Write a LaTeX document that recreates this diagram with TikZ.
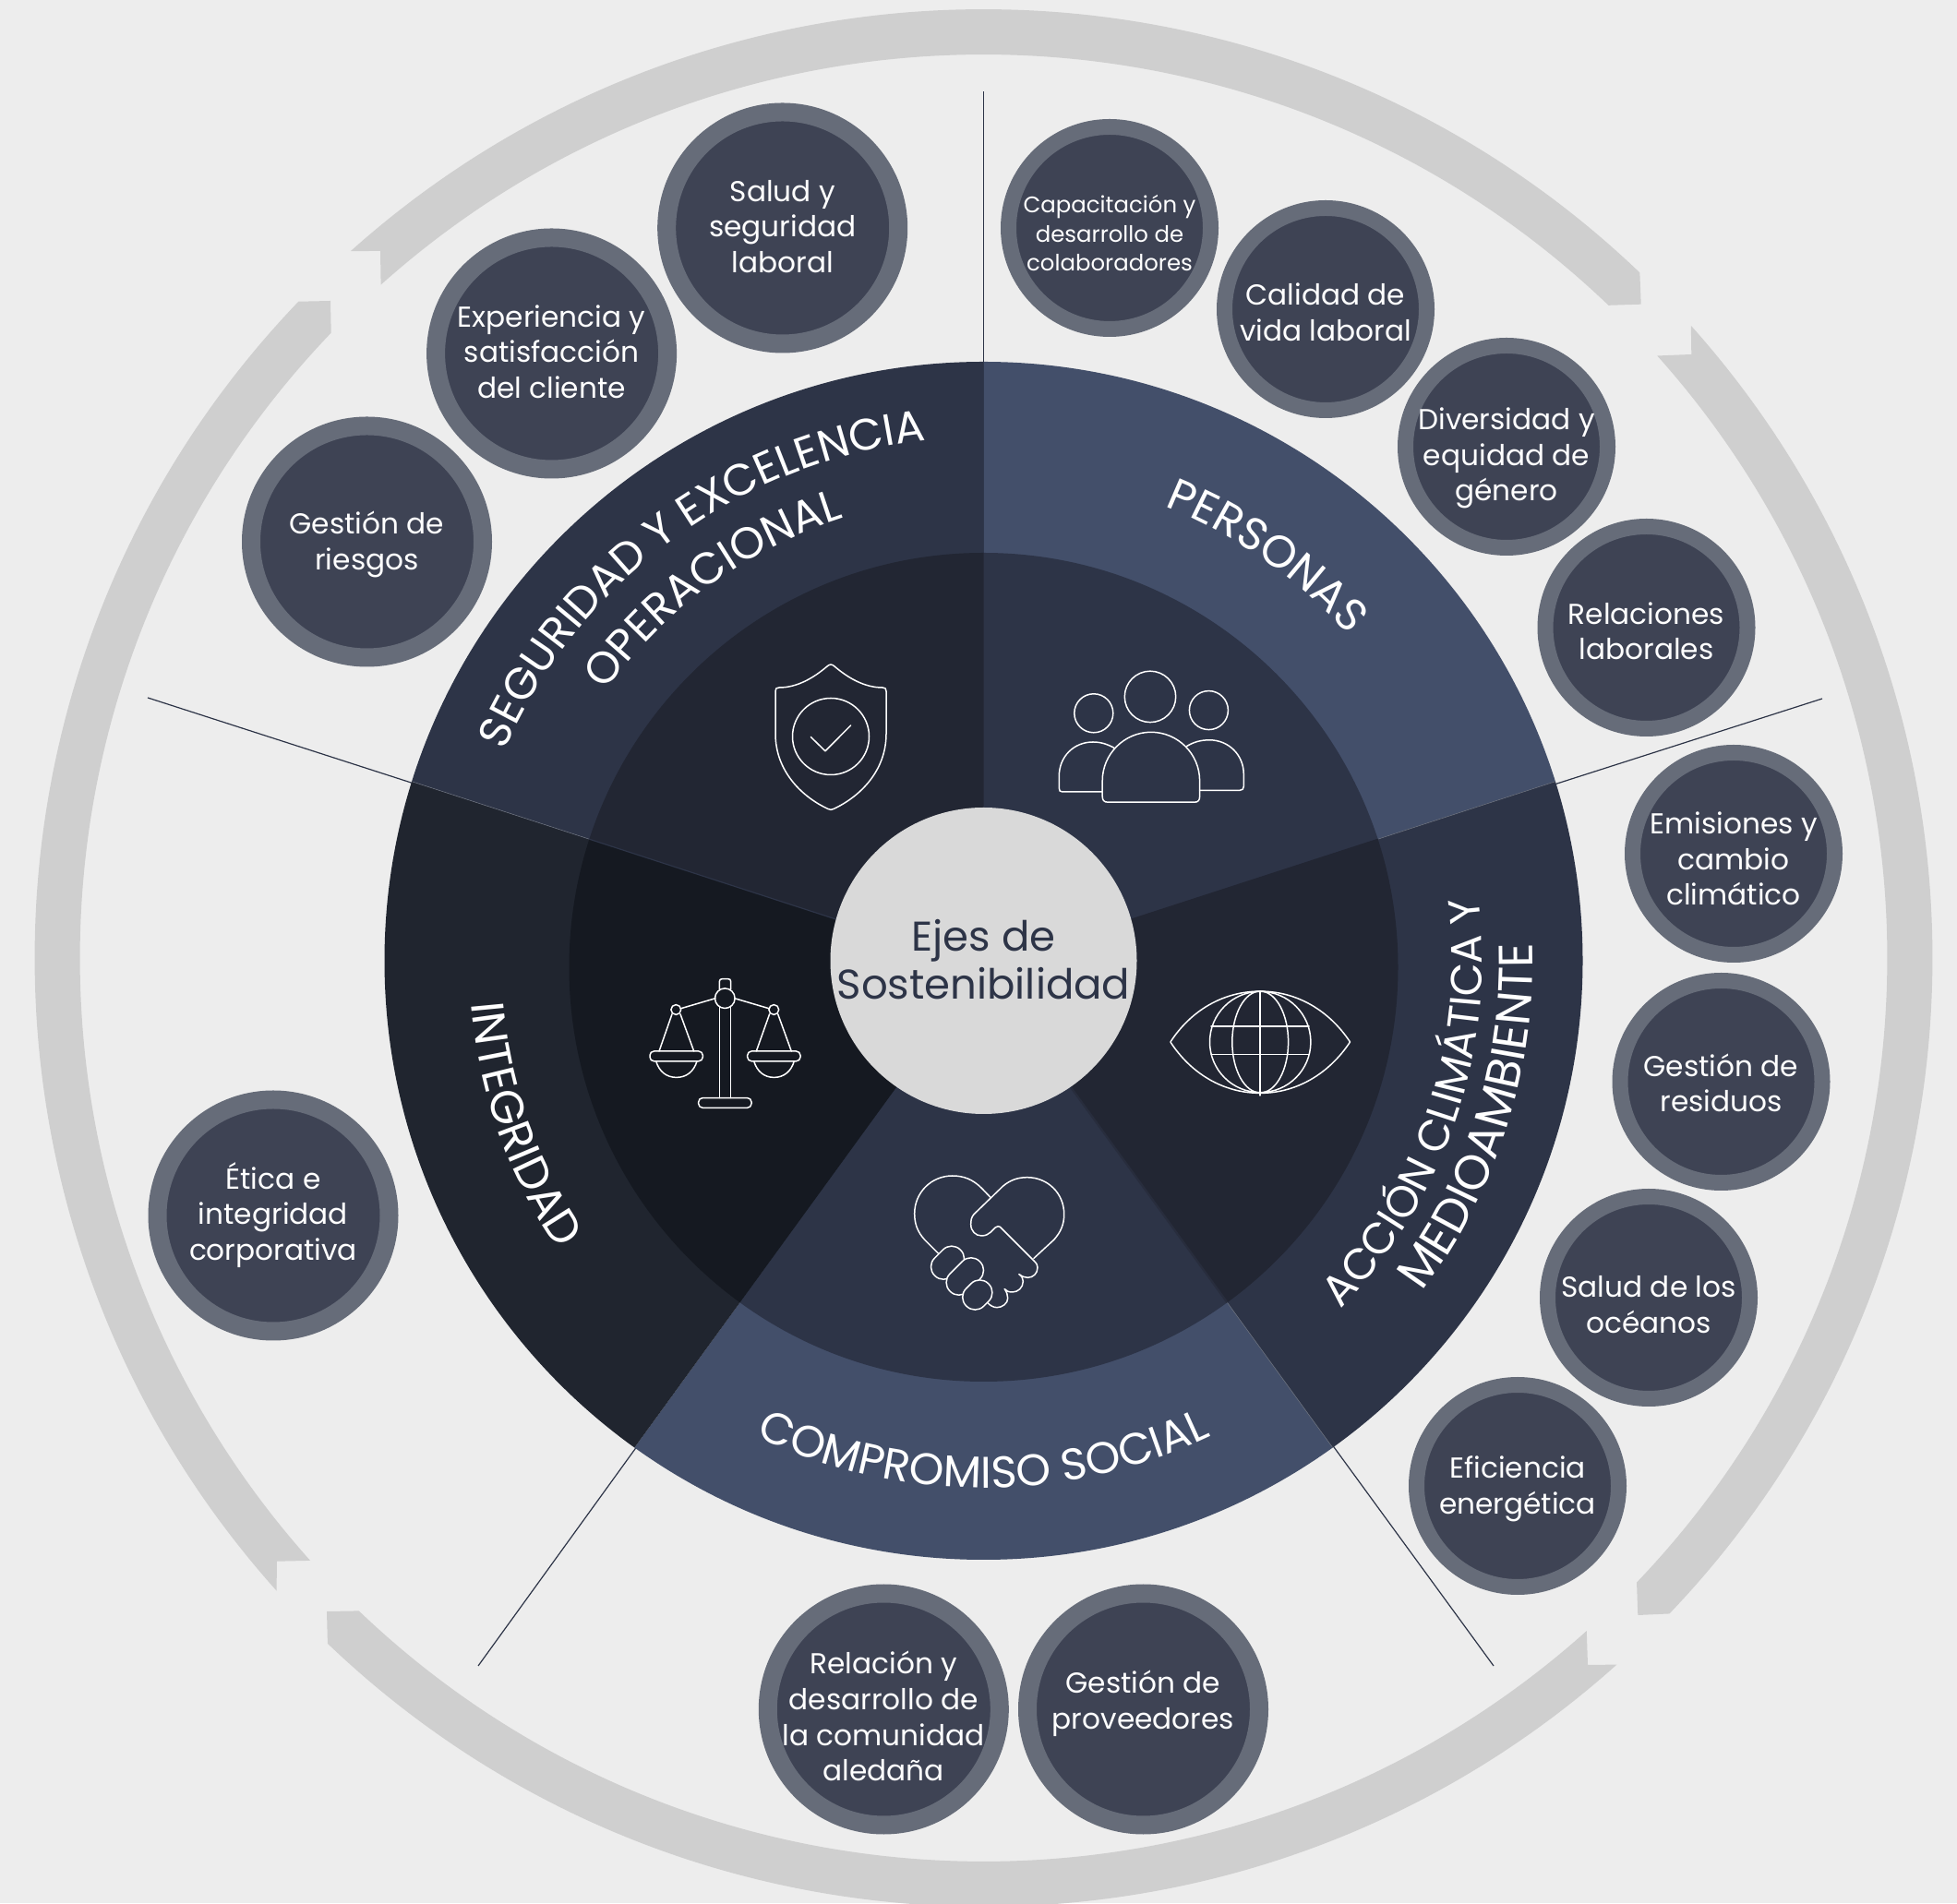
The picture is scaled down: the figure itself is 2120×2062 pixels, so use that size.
\documentclass[tikz,border=0pt]{standalone}
\usepackage{fontspec}
\setmainfont{Poppins}
\usetikzlibrary{decorations.text,calc}
\definecolor{bgc}{HTML}{EDEDED}
\definecolor{ringc}{HTML}{CFCFCF}
\definecolor{hubc}{HTML}{D9D9D9}
\definecolor{bluea}{HTML}{434F6A}
\definecolor{blueb}{HTML}{2D3447}
\definecolor{bluec}{HTML}{222633}
\definecolor{blued}{HTML}{20252F}
\definecolor{bluee}{HTML}{151921}
\definecolor{bubc}{HTML}{3E4354}
\definecolor{bubr}{HTML}{666C79}
\definecolor{seamc}{HTML}{282D3D}
\newcommand{\cctext}[2][0]{\smash{\raisebox{-#1pt}{\makebox[0pt]{\begin{tabular}{@{}c@{}}#2\end{tabular}}}}}
\newcommand{\wedgefill}[3]{\fill[#1] (C2) -- ++(#2:1300) -- ++({(#2+#3)/2}:500) -- ($(C2)+(#3:1300)$) -- cycle;}
\newcommand{\arclabel}[5]{\path[decorate,decoration={text along path,text color=white,text align=center,text={|\fontsize{#1}{#1}\selectfont|#2}}] (#3:#5) arc[start angle=#3,end angle=#4,radius=#5];}
\tikzset{
 bubbig/.style={circle,outer sep=0pt,inner sep=0pt,fill=bubc,draw=bubr,line width=10pt,minimum size=125.5pt,text=white,font=\fontsize{15.6}{19.3}\selectfont},
 bubsmall/.style={circle,outer sep=0pt,inner sep=0pt,fill=bubc,draw=bubr,line width=8.5pt,minimum size=109.5pt,text=white,font=\fontsize{15.6}{19.3}\selectfont},
 icon/.style={draw=white,line width=0.75pt,line join=round,line cap=round},
 spoke/.style={draw=blueb,line width=0.6pt},
}
\begin{document}
\begin{tikzpicture}[x=0.5pt,y=0.5pt]
\clip (0,0) rectangle (2120,2062);
\fill[bgc] (0,0) rectangle (2120,2062);
\coordinate (C) at (1065.5,1021);
\coordinate (C2) at (1065.5,1014);
\coordinate (RC) at (1065.5,1024);
% ring
\begin{scope}[shift={(RC)}]
\fill[ringc] (131.83:1028) arc[start angle=131.83,end angle=46.25,radius=1028] -- (712.2,708.3) -- (46.25:979) arc[start angle=46.25,end angle=131.83,radius=979] -- (-653.5,766) -- cycle;
\fill[ringc] (41.8:1028) arc[start angle=41.8,end angle=-43.72,radius=1028] -- (708.8,-712) -- (-43.72:979) arc[start angle=-43.72,end angle=41.8,radius=979] -- (766.8,654) -- cycle;
\fill[ringc] (-48.14:1028) arc[start angle=-48.14,end angle=-133.73,radius=1028] -- (-711.5,-708) -- (-133.73:979) arc[start angle=-133.73,end angle=-48.14,radius=979] -- (654.5,-766) -- cycle;
\fill[ringc] (221.83:1028) arc[start angle=221.83,end angle=136.22,radius=1028] -- (-707.5,712) -- (136.22:979) arc[start angle=136.22,end angle=221.83,radius=979] -- (-765.5,-653.7) -- cycle;
\end{scope}
% spokes
\coordinate (s1) at (1065.5,1963);
\coordinate (s2) at (1974,1305);
\coordinate (s3) at (1618,257);
\coordinate (s4) at (518,257);
\coordinate (s5) at (160,1306);
\draw[spoke] (C2) -- (s1);
\draw[spoke] (C2) -- (s2);
\draw[spoke] (C2) -- (s3);
\draw[spoke] (C2) -- (s4);
\draw[spoke] (C2) -- (s5);
% outer sectors
\begin{scope}
\clip (C) circle[radius=649];
\wedgefill{bluea}{18}{90}
\wedgefill{blueb}{-54}{18}
\wedgefill{bluea}{-126}{-54}
\wedgefill{blued}{162}{234}
\wedgefill{blueb}{90}{162}
\draw[line width=0.3pt,draw=bubr] (C2) -- ++(18:1000);
\draw[line width=0.3pt,draw=bubr] (C2) -- ++(-54:1000);
\draw[line width=0.3pt,draw=bubr] (C2) -- ++(162:1000);
\end{scope}
% inner sectors
\begin{scope}
\clip (C2) circle[radius=449];
\wedgefill{blueb}{18}{90}
\wedgefill{bluec}{-54}{18}
\wedgefill{blueb}{-126}{-54}
\wedgefill{bluee}{162}{234}
\wedgefill{bluec}{90}{162}
\draw[line width=0.5pt,draw=bluec] (C2) -- ++(18:1000);
\draw[line width=1.1pt,draw=seamc] (C2) -- ++(-54:1000);
\draw[line width=0.6pt,draw=blueb] (C2) -- ++(162:1000);
\end{scope}
% hub
\node[circle,outer sep=0pt,inner sep=0pt,fill=hubc,minimum size=166pt,text=blueb,font=\fontsize{22.5}{26}\selectfont] (hub) at (C) {\cctext[7.8]{Ejes de\\Sostenibilidad}};
% curved labels
\begin{scope}[shift={(C)}]
\arclabel{24}{SEGURIDAD Y EXCELENCIA}{176.3}{76.3}{567}
\arclabel{24}{OPERACIONAL}{176}{76}{503}
\arclabel{24.4}{PERSONAS}{95}{15}{530}
\arclabel{23.6}{ACCIÓN CLIMÁTICA Y}{-58.5}{21.5}{540}
\arclabel{26}{MEDIOAMBIENTE}{-57.6}{22.4}{595}
\arclabel{24}{COMPROMISO SOCIAL}{-130}{-50}{571}
\arclabel{25}{INTEGRIDAD}{159.5}{239.5}{557}
\end{scope}
% bubbles
\node[bubbig] (b1) at (847.7,1815) {\cctext[4.7]{Salud y\\seguridad\\laboral}};
\node[bubbig] (b2) at (597.6,1679) {\cctext[4.7]{Experiencia y\\satisfacción\\del cliente}};
\node[bubbig] (b3) at (397.5,1475) {\cctext[5.3]{Gestión de\\riesgos}};
\node[bubbig] (b4) at (296,745) {\cctext[4.1]{Ética e\\integridad\\corporativa}};
\node[bubbig] (b5) at (957.3,210) {\cctext[9.6]{Relación y\\desarrollo de\\la comunidad\\aledaña}};
\node[bubbig] (b6) at (1238.5,210) {\cctext[0.8]{Gestión de\\proveedores}};
\node[bubsmall,font=\fontsize{12.2}{15.6}\selectfont] (s1b) at (1202,1815) {\cctext[7.4]{Capacitación y\\desarrollo de\\colaboradores}};
\node[bubsmall] (s2b) at (1436,1727) {\cctext[7.2]{Calidad de\\vida laboral}};
\node[bubsmall] (s3b) at (1632,1578) {\cctext[9.8]{Diversidad y\\equidad de\\género}};
\node[bubsmall] (s4b) at (1783.5,1382) {\cctext[7.4]{Relaciones\\laborales}};
\node[bubsmall] (s5b) at (1878,1137) {\cctext[8.4]{Emisiones y\\cambio\\climático}};
\node[bubsmall] (s6b) at (1864.5,890) {\cctext[6.5]{Gestión de\\residuos}};
\node[bubsmall] (s7b) at (1786,656) {\cctext[9.2]{Salud de los\\océanos}};
\node[bubsmall] (s8b) at (1644,452) {\cctext[5.1]{Eficiencia\\energética}};
% icons in pixel coordinates
\begin{scope}[cm={1,0,0,-1,(0,2062)}]
% shield
\draw[icon] (896,722) .. controls (882,734) and (864,745) .. (844,745) .. controls (841,745) and (840,746) .. (840,749) -- (840,795) .. controls (840,835) and (868,863) .. (897,876.5) .. controls (899,877.6) and (901,877.6) .. (903,876.5) .. controls (932,863) and (960,835) .. (960,795) -- (960,749) .. controls (960,746) and (959,745) .. (956,745) .. controls (936,745) and (918,734) .. (904,722) .. controls (901,719.4) and (899,719.4) .. (896,722) -- cycle;
\draw[icon] (900,798) circle[radius=41.5];
\draw[icon] (878.3,798.5) -- (894,813.8) -- (921.7,785.9);
% people
\draw[icon] (1246,754.9) circle[radius=27.7];
\draw[icon] (1184.8,772.8) circle[radius=21];
\draw[icon] (1309.4,769.6) circle[radius=21];
\draw[icon] (1194.2,846) .. controls (1194.2,817) and (1218,793.3) .. (1246.9,793.3) .. controls (1276,793.3) and (1299.6,817) .. (1299.6,846) -- (1299.6,863) .. controls (1299.6,867) and (1298,869.2) .. (1294,869.2) -- (1200,869.2) .. controls (1196,869.2) and (1194.2,867) .. (1194.2,863) -- cycle;
\draw[icon] (1207.6,810.7) .. controls (1199,806) and (1192,804) .. (1184,804) .. controls (1163,804) and (1147.3,820) .. (1147.3,841) -- (1147.3,854) .. controls (1147.3,857) and (1148.5,858) .. (1151,858) -- (1194.2,858);
\draw[icon] (1285.7,808.5) .. controls (1293,804) and (1301,801.8) .. (1310,801.8) .. controls (1331,801.8) and (1347.3,818) .. (1347.3,839) -- (1347.3,852) .. controls (1347.3,855) and (1346,856.3) .. (1343,856.3) -- (1299.6,856.3);
% globe eye
\draw[icon] (1267.9,1129) .. controls (1290,1095) and (1325,1074.1) .. (1365.2,1074.1) .. controls (1405,1074.1) and (1440,1095) .. (1462.5,1129) .. controls (1440,1163) and (1405,1184.4) .. (1365.2,1184.4) .. controls (1325,1184.4) and (1290,1163) .. (1267.9,1129) -- cycle;
\draw[icon] (1365.2,1129) circle[radius=54.7];
\draw[icon] (1365.2,1129) ellipse[x radius=30.4,y radius=55];
\draw[icon] (1365.2,1074) -- (1365.2,1187);
\draw[icon] (1312,1112) -- (1418,1112);
\draw[icon] (1312,1142.4) -- (1418,1142.4);
% scales
\draw[icon] (779.3,1189.6) -- (779.3,1091) (791.7,1189.6) -- (791.7,1091);
\draw[icon] (779.3,1072) -- (779.3,1063.6) .. controls (779.3,1061.5) and (780.5,1060.6) .. (782.5,1060.6) -- (788.5,1060.6) .. controls (790.5,1060.6) and (791.7,1061.5) .. (791.7,1063.6) -- (791.7,1072);
\draw[icon] (785.3,1081.7) circle[radius=10.8];
\draw[icon] (775,1081.7) -- (737.3,1092.8);
\draw[icon] (795.7,1081.7) -- (833.3,1092.8);
\draw[icon] (732.3,1094) circle[radius=5.4];
\draw[icon] (838.3,1094) circle[radius=5.4];
\draw[icon] (728,1098.8) -- (714,1139) (737,1098.8) -- (751.7,1139);
\draw[icon] (833.6,1098.8) -- (819.3,1139) (842.7,1098.8) -- (857.3,1139);
\draw[icon,rounded corners=2.2pt] (704,1139) rectangle (761.3,1149.8);
\draw[icon,rounded corners=2.2pt] (809.7,1139) rectangle (867,1149.8);
\draw[icon] (710.7,1149.8) .. controls (714,1161) and (722,1167.4) .. (732.8,1167.4) .. controls (743.6,1167.4) and (751.7,1161) .. (755,1149.8);
\draw[icon] (816.7,1149.8) .. controls (820,1161) and (828,1167.4) .. (838.5,1167.4) .. controls (849,1167.4) and (857,1161) .. (860.3,1149.8);
\draw[icon,rounded corners=2.2pt] (756.7,1189.6) rectangle (814,1200.3);
% handshake
\draw[icon] (1017.3,1359) -- (1001.7,1343.3) .. controls (994,1335) and (990.7,1326) .. (990.7,1315) .. controls (990.7,1292) and (1009,1274) .. (1031.7,1274) .. controls (1044,1274) and (1054,1278) .. (1063.3,1287.3) -- (1073.3,1297.7);
\draw[icon] (1120,1363.3) -- (1141.7,1343.3) .. controls (1149,1335) and (1152.7,1327) .. (1152.7,1315.7) .. controls (1152.7,1293) and (1135,1275.7) .. (1112.7,1275.7) .. controls (1102,1275.7) and (1094,1279) .. (1086.7,1285) -- (1055,1315.7) .. controls (1052,1319) and (1051.7,1323) .. (1051.7,1326.7) .. controls (1051.7,1334) and (1057,1339) .. (1063.3,1339) .. controls (1068,1339) and (1071,1337) .. (1073.3,1335) -- (1078.3,1330) .. controls (1080,1328.5) and (1082,1328.5) .. (1083.3,1329.3) -- (1120,1366) .. controls (1123,1369) and (1124,1371) .. (1124,1373.3) .. controls (1124,1380) and (1119,1384.3) .. (1113.3,1384.3) .. controls (1110,1384.3) and (1107,1383) .. (1104,1380.7);
\draw[icon] (1104,1380.7) .. controls (1107,1383) and (1108.3,1385) .. (1108.3,1388.3) .. controls (1108.3,1395) and (1103,1400) .. (1096.7,1400) .. controls (1093,1400) and (1090,1399) .. (1088.3,1396.7);
\draw[icon] (1088.3,1396.7) .. controls (1090.5,1400) and (1091.7,1403) .. (1091.7,1406.7) .. controls (1091.7,1412) and (1086,1416.7) .. (1080,1416.7) .. controls (1076,1416.7) and (1072,1414) .. (1070,1411.7);
\draw[icon,rotate around={-45:(1026.5,1368.2)},rounded corners=6.6pt,fill=blueb] (1006.8,1354.7) rectangle (1046.2,1381.7);
\draw[icon,rotate around={-45:(1045.3,1383)},rounded corners=6.6pt,fill=blueb] (1022.5,1369.5) rectangle (1068.1,1396.5);
\draw[icon,rotate around={-45:(1058.8,1403)},rounded corners=6.6pt,fill=blueb] (1041.8,1389.5) rectangle (1075.8,1416.5);
\end{scope}
\end{tikzpicture}
\end{document}
